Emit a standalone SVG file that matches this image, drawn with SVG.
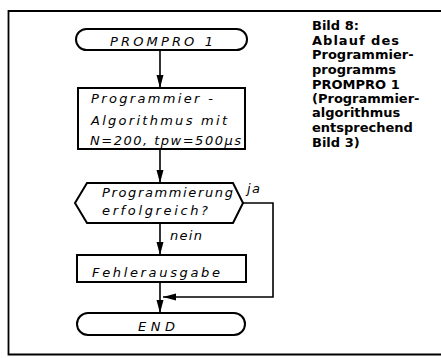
<svg xmlns="http://www.w3.org/2000/svg" width="441" height="358" viewBox="0 0 441 358">
<defs>
<style>
.shape{fill:#fff;stroke:#000;stroke-width:2}
.conn{fill:none;stroke:#000;stroke-width:1.6}
.t{font-family:"DejaVu Sans",sans-serif;font-style:italic;font-size:13px;fill:#000}
.cap{font-family:"DejaVu Sans",sans-serif;font-weight:bold;font-size:13px;fill:#000}
</style>
<marker id="arr" markerUnits="userSpaceOnUse" markerWidth="14" markerHeight="8" refX="13" refY="3.5" orient="auto">
<path d="M0,0 L13,3.5 L0,7 Z" fill="#000"/>
</marker>
</defs>
<rect width="441" height="358" fill="#fff"/>
<path d="M441,11 H8.5 V354.5 H441" fill="none" stroke="#000" stroke-width="1.8"/>
<g id="connectors">
<path class="conn" d="M160,50 V88" marker-end="url(#arr)"/>
<path class="conn" d="M160,149 V183" marker-end="url(#arr)"/>
<path class="conn" d="M160,223 V255" marker-end="url(#arr)"/>
<path class="conn" d="M160,282 V313" marker-end="url(#arr)"/>
<path class="conn" d="M243,203 H273 V297 H163" marker-end="url(#arr)"/>
</g>
<g id="start">
<rect class="shape" x="76" y="29" width="171" height="21" rx="10.5"/>
<text class="t" x="110" y="46" textLength="103" lengthAdjust="spacing">PROMPRO 1</text>
</g>
<g id="algorithm">
<rect class="shape" x="78" y="88" width="167" height="61"/>
<text class="t" x="91" y="103" textLength="122" lengthAdjust="spacing">Programmier -</text>
<text class="t" x="91" y="125" textLength="136" lengthAdjust="spacing">Algorithmus mit</text>
<text class="t" x="90" y="145" textLength="151" lengthAdjust="spacing">N=200, tpw=500µs</text>
</g>
<g id="decision">
<polygon class="shape" points="75,203 87,183 233,183 243,203 233,223 87,223"/>
<text class="t" x="102" y="197" textLength="131" lengthAdjust="spacing">Programmierung</text>
<text class="t" x="102" y="215" textLength="106" lengthAdjust="spacing">erfolgreich?</text>
</g>
<g id="labels">
<text class="t" x="247" y="193" textLength="13" lengthAdjust="spacing">ja</text>
<text class="t" x="170" y="240" textLength="32" lengthAdjust="spacing">nein</text>
</g>
<g id="error">
<rect class="shape" x="77" y="255" width="169" height="27"/>
<text class="t" x="92" y="277" textLength="128" lengthAdjust="spacing">Fehlerausgabe</text>
</g>
<g id="end">
<rect class="shape" x="77" y="313" width="168" height="22" rx="11"/>
<text class="t" x="138" y="331" textLength="37" lengthAdjust="spacing">END</text>
</g>
<g id="caption">
<text class="cap" x="312" y="30">Bild 8:</text>
<text class="cap" x="312" y="45" textLength="87" lengthAdjust="spacing">Ablauf des</text>
<text class="cap" x="312" y="59">Programmier-</text>
<text class="cap" x="312" y="74">programms</text>
<text class="cap" x="312" y="89">PROMPRO 1</text>
<text class="cap" x="312" y="103">(Programmier-</text>
<text class="cap" x="312" y="117">algorithmus</text>
<text class="cap" x="312" y="132">entsprechend</text>
<text class="cap" x="312" y="147">Bild 3)</text>
</g>
</svg>
